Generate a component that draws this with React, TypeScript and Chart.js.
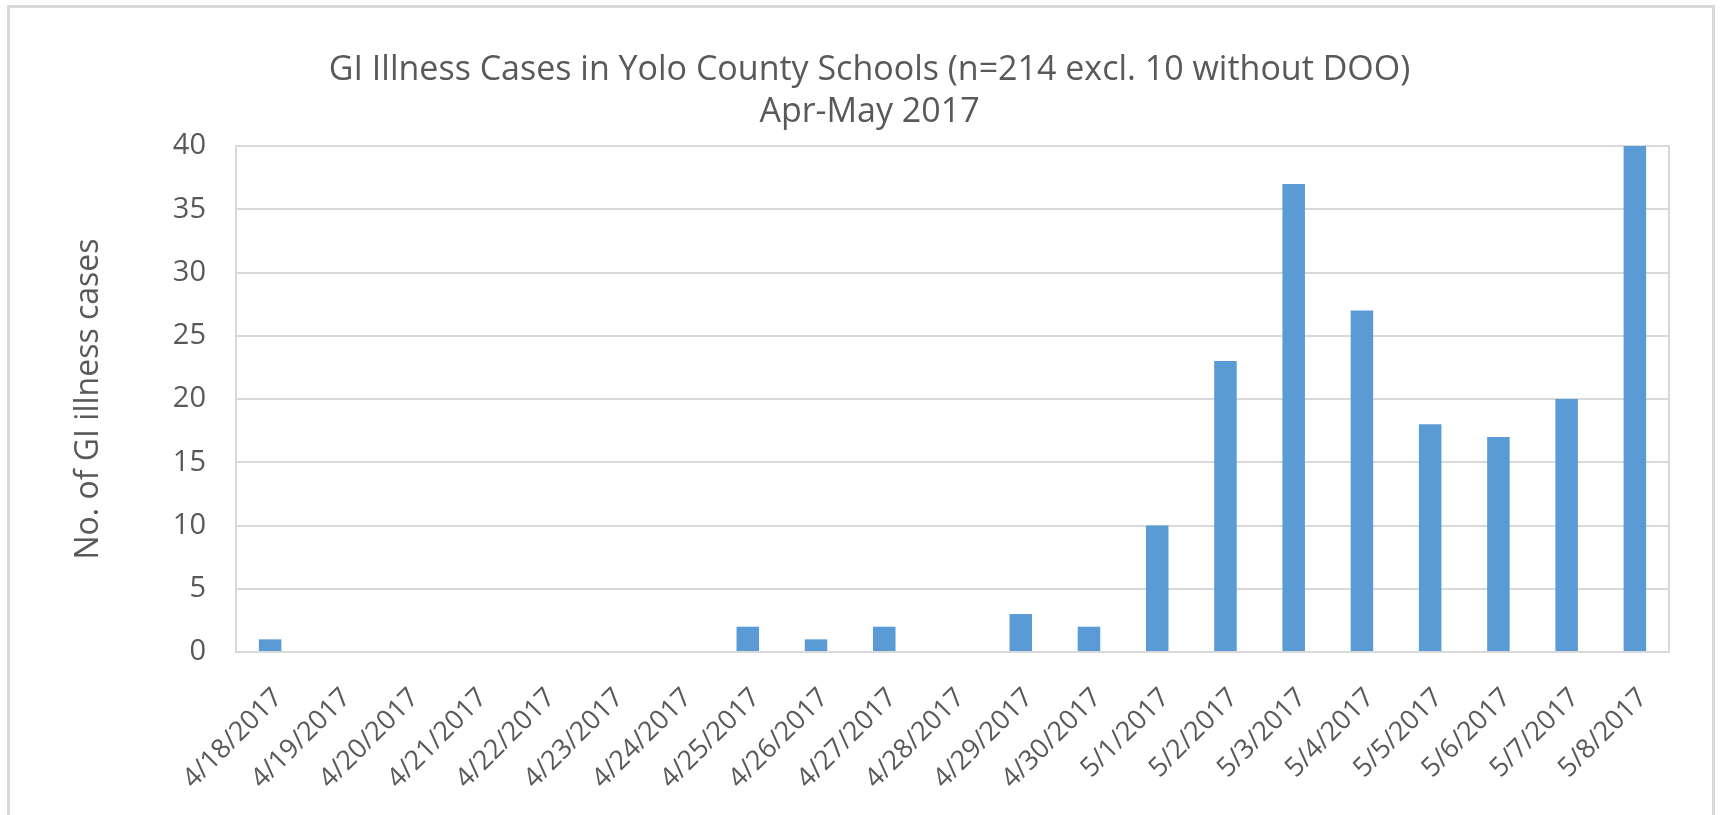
import React, { useEffect, useRef } from "react";
import { Chart, registerables } from "chart.js";

Chart.register(...registerables);

const titleLines = [
  "GI Illness Cases in Yolo County Schools (n=214 excl. 10 without DOO)",
  "Apr-May 2017",
];
const yAxisTitle = "No. of GI illness cases";
const categories = [
  "4/18/2017", "4/19/2017", "4/20/2017", "4/21/2017", "4/22/2017", "4/23/2017", "4/24/2017",
  "4/25/2017", "4/26/2017", "4/27/2017", "4/28/2017", "4/29/2017", "4/30/2017",
  "5/1/2017", "5/2/2017", "5/3/2017", "5/4/2017", "5/5/2017", "5/6/2017", "5/7/2017", "5/8/2017",
];
const cases = [1, 0, 0, 0, 0, 0, 0, 2, 1, 2, 0, 3, 2, 10, 23, 37, 27, 18, 17, 20, 40];
const yMin = 0;
const yMax = 40;
const yStep = 5;

const W = 1721;
const H = 815;
const FONT = "'Open Sans', 'Noto Sans', sans-serif";
const TEXT = "#595959";
const GRID = "#d9d9d9";

export default function App() {
  const ref = useRef<HTMLCanvasElement | null>(null);

  useEffect(() => {
    if (!ref.current) return;
    const padLeft = 70;
    const chart = new Chart(ref.current, {
      type: "bar",
      data: {
        labels: categories,
        datasets: [
          {
            data: cases,
            backgroundColor: "#5B9BD5",
            borderWidth: 0,
            categoryPercentage: 1,
            barPercentage: 0.33,
          },
        ],
      },
      options: {
        animation: false,
        responsive: false,
        layout: { padding: { left: padLeft, right: 52, top: 0, bottom: 0 } },
        plugins: {
          legend: { display: false },
          tooltip: { enabled: false },
          title: {
            display: true,
            text: titleLines,
            color: TEXT,
            font: { family: FONT, size: 34, weight: "normal", lineHeight: "42px" },
            padding: { top: 49, bottom: 13 },
          },
        },
        scales: {
          x: {
            grid: { display: false },
            border: { display: true, color: GRID, width: 2 },
            ticks: {
              minRotation: 45,
              maxRotation: 45,
              autoSkip: false,
              color: TEXT,
              font: { family: FONT, size: 27 },
              padding: 22,
              labelOffset: 8,
            },
            afterFit: (s: any) => {
              s.height = H - 652;
            },
          },
          y: {
            min: yMin,
            max: yMax,
            ticks: {
              stepSize: yStep,
              color: TEXT,
              font: { family: FONT, size: 29 },
              padding: 30,
            },
            grid: { color: GRID, lineWidth: 2, drawTicks: false },
            border: { display: true, color: GRID, width: 2 },
            title: {
              display: true,
              text: yAxisTitle,
              color: TEXT,
              font: { family: FONT, size: 32 },
              padding: 0,
            },
            afterFit: (s: any) => {
              s.width = 236 - padLeft;
            },
          },
          y2: {
            position: "right",
            min: yMin,
            max: yMax,
            ticks: { display: false },
            grid: { display: false, drawTicks: false },
            border: { display: true, color: GRID, width: 2 },
            afterFit: (s: any) => {
              s.width = 0;
            },
          },
        },
      },
    });
    return () => chart.destroy();
  }, []);

  return (
    <div style={{ position: "fixed", left: 0, top: 0, width: W, height: H, overflow: "hidden", background: "#fff" }}>
      <div
        style={{
          position: "absolute",
          left: 7,
          top: 5,
          width: 1708,
          height: 900,
          border: `3px solid ${GRID}`,
          boxSizing: "border-box",
        }}
      />
      <canvas ref={ref} width={W} height={H} style={{ position: "absolute", left: 0, top: 0, width: W, height: H }} />
    </div>
  );
}
